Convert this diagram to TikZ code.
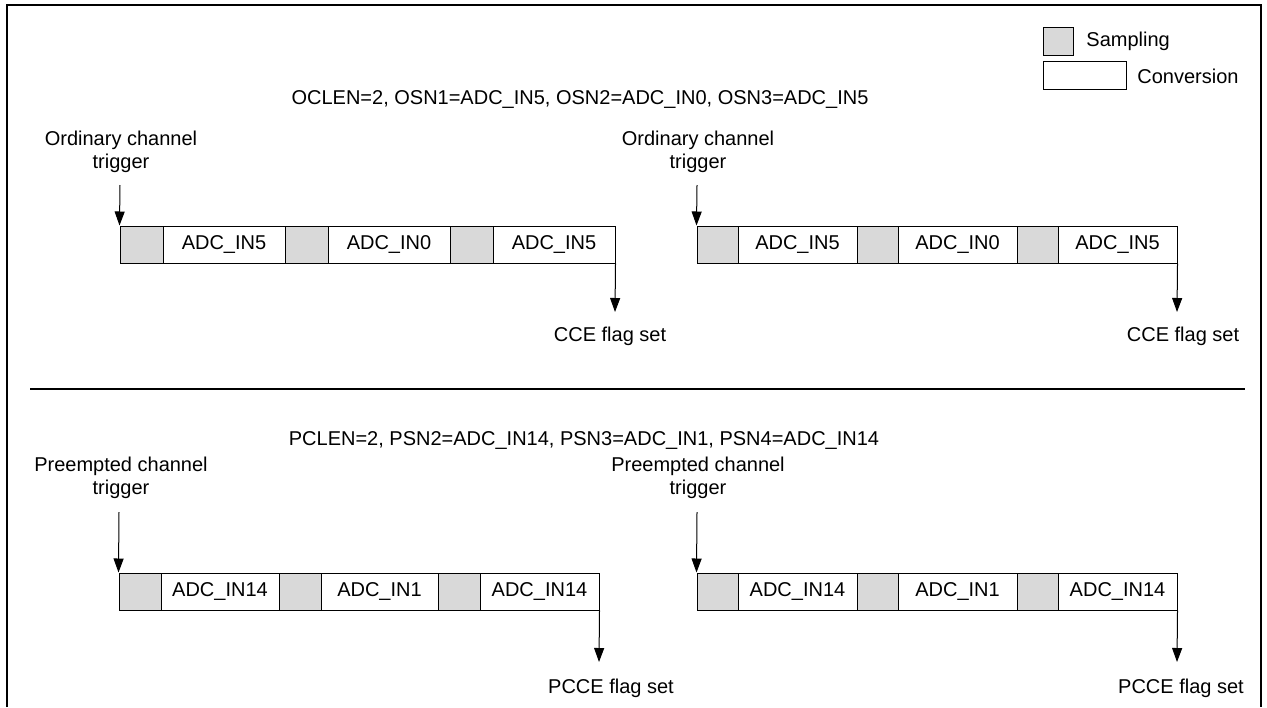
\documentclass[tikz,border=0pt]{standalone}
\usepackage{fontspec}
\setmainfont{Liberation Sans}
\usetikzlibrary{arrows.meta}
\definecolor{sampgray}{RGB}{217,217,217}

\begin{document}
\begin{tikzpicture}[x=0.5pt,y=-0.5pt,
  font=\fontsize{10}{11.5}\selectfont,
  samp/.style={draw, fill=sampgray, line width=0.5pt, minimum height=18.5pt, inner sep=0pt, minimum width=#1},
  conv/.style={draw, fill=white, line width=0.5pt, minimum height=18.5pt, inner sep=0pt, minimum width=#1},
  lbl/.style={align=center, inner sep=0pt},
  flow/.style={-{Triangle[length=7pt,width=5pt]}, line width=0.5pt}]
\useasboundingbox (0,0) rectangle (1267,707);

% frame and separator
\draw[line width=1pt] (7,707) -- (7,5) -- (1261,5) -- (1261,707);
\draw[line width=1pt] (30,389) -- (1245,389);

% legend
\node[samp=15pt, minimum height=14pt] (keys) at (1058,41) {};
\node[conv=41.5pt, minimum height=14pt] (keyc) at (1084.5,75) {};
\node[lbl, anchor=west] (keystxt) at (1086,41) {Sampling};
\node[lbl, anchor=west] (keyctxt) at (1137,76) {Conversion};

% ordinary channels
\node[lbl] (otitle) at (580,100) {OCLEN=2, OSN1=ADC\_IN5, OSN2=ADC\_IN0, OSN3=ADC\_IN5};
\node[lbl] (otrigA) at (121,152) {Ordinary channel\\trigger};
\node[lbl] (otrigB) at (698,152) {Ordinary channel\\trigger};

\node[samp=21.5pt] (r1s1) at (141.5,244.5) {};
\node[conv=61pt] (r1c1) at (224,244.5) {ADC\_IN5};
\node[samp=21.5pt] (r1s2) at (306.5,244.5) {};
\node[conv=61pt] (r1c2) at (389,244.5) {ADC\_IN0};
\node[samp=21.5pt] (r1s3) at (471.5,244.5) {};
\node[conv=61pt] (r1c3) at (554,244.5) {ADC\_IN5};

\node[samp=20.5pt] (r1s4) at (717.5,244.5) {};
\node[conv=59.5pt] (r1c4) at (797.5,244.5) {ADC\_IN5};
\node[samp=20.5pt] (r1s5) at (877.5,244.5) {};
\node[conv=59.5pt] (r1c5) at (957.5,244.5) {ADC\_IN0};
\node[samp=20.5pt] (r1s6) at (1037.5,244.5) {};
\node[conv=59.5pt] (r1c6) at (1117.5,244.5) {ADC\_IN5};

\node[lbl] (oflagA) at (610,336) {CCE flag set};
\node[lbl] (oflagB) at (1183,336) {CCE flag set};

\coordinate (ot1) at (120,185);
\coordinate (ot2) at (697,185);
\coordinate (of1) at (615,312);
\coordinate (of2) at (1177,312);
\draw[flow] (ot1) -- (r1s1.north west);
\draw[flow] (ot2) -- (r1s4.north west);
\draw[flow] (r1c3.south east) -- (of1);
\draw[flow] (r1c6.south east) -- (of2);

% preempted channels
\node[lbl] (ptitle) at (584,440) {PCLEN=2, PSN2=ADC\_IN14, PSN3=ADC\_IN1, PSN4=ADC\_IN14};
\node[lbl] (ptrigA) at (121,478) {Preempted channel\\trigger};
\node[lbl] (ptrigB) at (698,478) {Preempted channel\\trigger};

\node[samp=21pt] (r2s1) at (140,591.5) {};
\node[conv=59pt] (r2c1) at (220,591.5) {ADC\_IN14};
\node[samp=21pt] (r2s2) at (300,591.5) {};
\node[conv=58.5pt] (r2c2) at (379.5,591.5) {ADC\_IN1};
\node[samp=21pt] (r2s3) at (459,591.5) {};
\node[conv=59.5pt] (r2c3) at (539.5,591.5) {ADC\_IN14};

\node[samp=20.5pt] (r2s4) at (717.5,591.5) {};
\node[conv=59.5pt] (r2c4) at (797.5,591.5) {ADC\_IN14};
\node[samp=20.5pt] (r2s5) at (877.5,591.5) {};
\node[conv=59.5pt] (r2c5) at (957.5,591.5) {ADC\_IN1};
\node[samp=20.5pt] (r2s6) at (1037.5,591.5) {};
\node[conv=59.5pt] (r2c6) at (1117.5,591.5) {ADC\_IN14};

\node[lbl] (pflagA) at (611,688) {PCCE flag set};
\node[lbl] (pflagB) at (1181,688) {PCCE flag set};

\coordinate (pt1) at (119,512);
\coordinate (pt2) at (697,512);
\coordinate (pf1) at (599,662);
\coordinate (pf2) at (1177,662);
\draw[flow] (pt1) -- (r2s1.north west);
\draw[flow] (pt2) -- (r2s4.north west);
\draw[flow] (r2c3.south east) -- (pf1);
\draw[flow] (r2c6.south east) -- (pf2);
\end{tikzpicture}
\end{document}
